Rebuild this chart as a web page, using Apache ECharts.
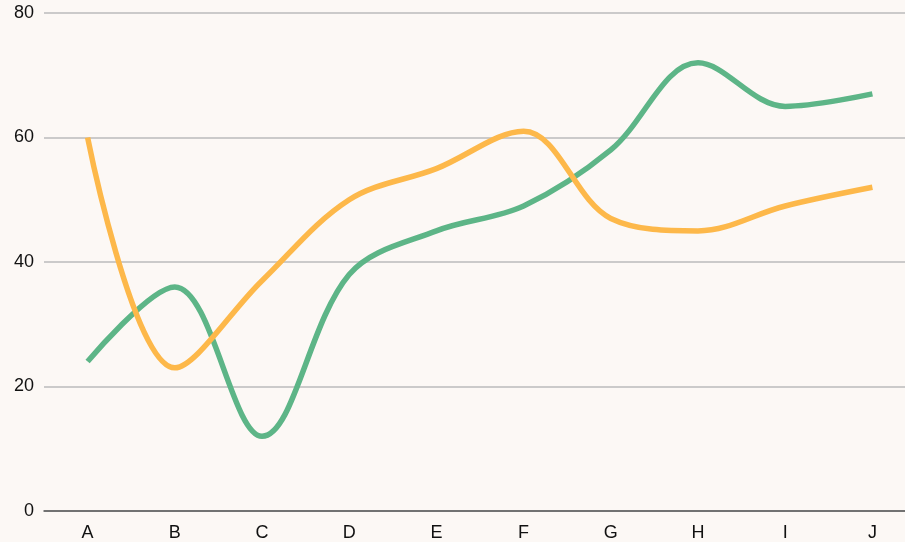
<!DOCTYPE html>
<html><head><meta charset="utf-8">
<script src="https://cdn.jsdelivr.net/npm/echarts@6/dist/echarts.min.js"></script>
<style>html,body{margin:0;padding:0;background:#fcf8f5;overflow:hidden}#c{width:916px;height:542px}</style>
</head><body><div id="c"></div>
<script>
const categories = ['A','B','C','D','E','F','G','H','I','J'];
const greenValues = [24, 36, 12, 38, 45, 49, 58, 72, 65, 67];
const orangeValues = [60, 23, 37, 50, 55, 61, 47, 45, 49, 52];
const yTicks = {min: 0, max: 80, interval: 20};

const FONT = '"Liberation Sans", Arial, sans-serif';
const chart = echarts.init(document.getElementById('c'), null, {renderer: 'canvas'});
chart.setOption({
  backgroundColor: '#fcf8f5',
  animation: false,
  grid: {left: 44, right: 0, top: 13, bottom: 31, containLabel: false},
  xAxis: {
    type: 'category', data: categories, boundaryGap: true,
    axisLine: {lineStyle: {color: '#555', width: 1.5}},
    axisTick: {show: false},
    axisLabel: {color: '#111', fontSize: 18, fontFamily: FONT, margin: 13}
  },
  yAxis: {
    type: 'value', min: yTicks.min, max: yTicks.max, interval: yTicks.interval,
    axisLine: {show: false}, axisTick: {show: false},
    axisLabel: {color: '#111', fontSize: 18, fontFamily: FONT, margin: 10},
    splitLine: {lineStyle: {color: '#bbb', width: 1.5}}
  },
  series: [
    {type: 'line', data: greenValues, smooth: 0.35, showSymbol: false, symbol: 'none',
     lineStyle: {color: '#5db587', width: 5.5}, itemStyle: {color: '#5db587'}},
    {type: 'line', data: orangeValues, smooth: 0.35, showSymbol: false, symbol: 'none',
     lineStyle: {color: '#fdb84a', width: 5.5}, itemStyle: {color: '#fdb84a'}}
  ]
});
</script></body></html>
